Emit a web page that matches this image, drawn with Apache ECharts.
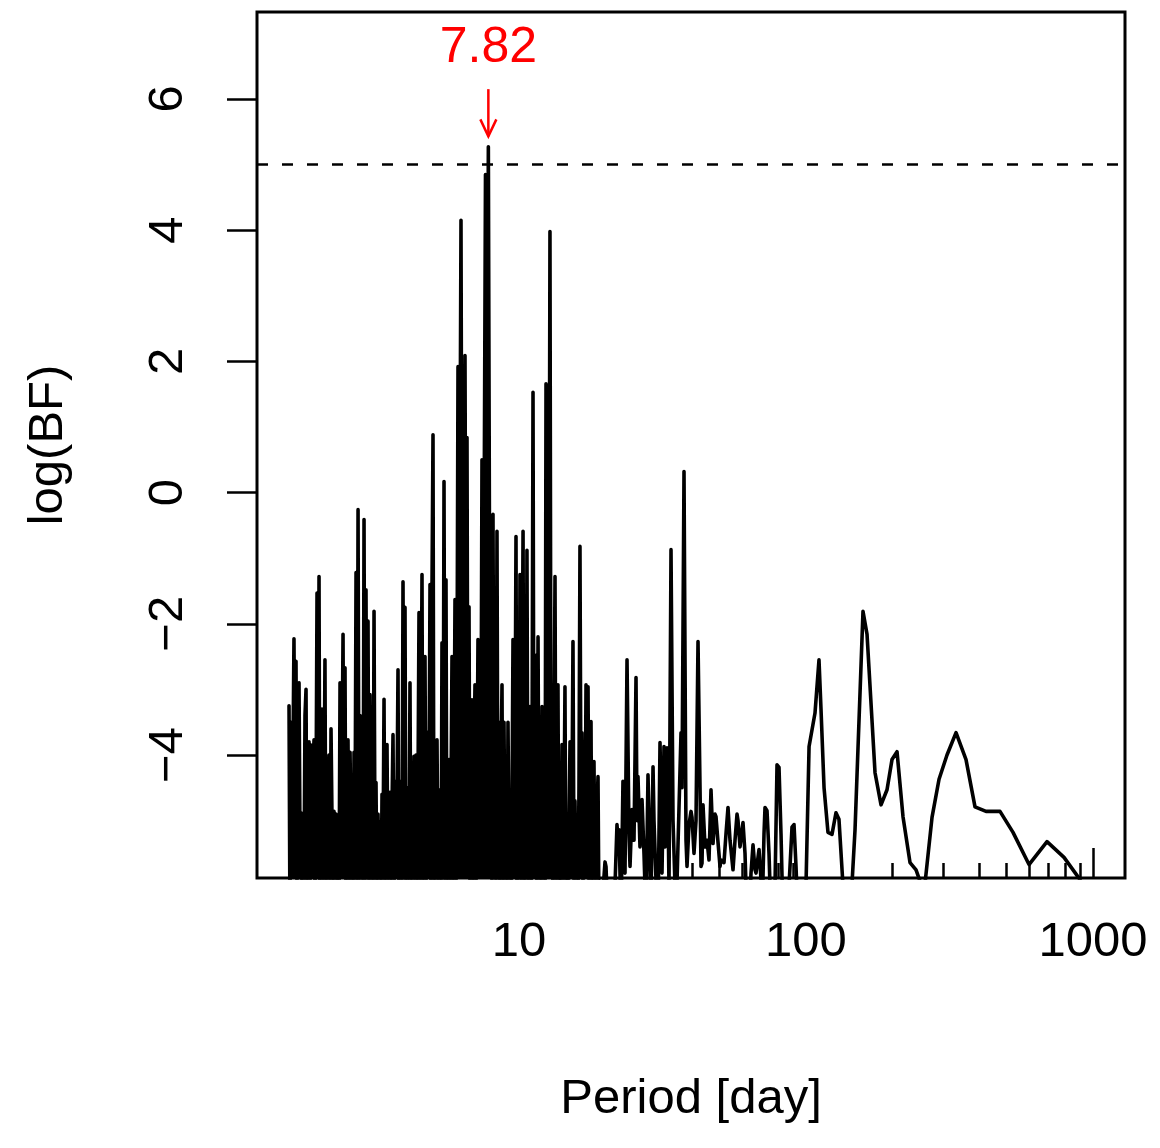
<!DOCTYPE html>
<html>
<head>
<meta charset="utf-8">
<title>log(BF) periodogram</title>
<script src="https://cdn.jsdelivr.net/npm/echarts@6/dist/echarts.min.js"></script>
<style>
html, body { margin: 0; padding: 0; background: #fff; }
#chart { width: 1160px; height: 1148px; }
</style>
</head>
<body>
<div id="chart"></div>
<script>
// short periods (dense part of the periodogram)
const shortPeriods = [
  1.580, 1.592, 1.605, 1.618, 1.631, 1.644, 1.658, 1.671, 1.684, 1.698, 1.712, 1.725,
  1.739, 1.753, 1.767, 1.782, 1.796, 1.811, 1.825, 1.840, 1.855, 1.870,
  1.885, 1.900, 1.915, 1.931, 1.946, 1.962, 1.978, 1.994, 2.010, 2.025,
  2.042, 2.058, 2.075, 2.092, 2.108, 2.125, 2.142, 2.160, 2.177, 2.195,
  2.213, 2.231, 2.249, 2.267, 2.285, 2.303, 2.322, 2.341, 2.359, 2.379,
  2.398, 2.417, 2.437, 2.456, 2.476, 2.496, 2.516, 2.536, 2.557, 2.578,
  2.598, 2.619, 2.640, 2.662, 2.683, 2.705, 2.727, 2.749, 2.771, 2.793,
  2.815, 2.838, 2.861, 2.884, 2.907, 2.930, 2.954, 2.978, 3.002, 3.026,
  3.050, 3.075, 3.100, 3.125, 3.150, 3.175, 3.201, 3.226, 3.252, 3.279,
  3.305, 3.332, 3.359, 3.386, 3.413, 3.440, 3.468, 3.496, 3.524, 3.552,
  3.581, 3.610, 3.639, 3.668, 3.698, 3.728, 3.758, 3.788, 3.818, 3.849,
  3.880, 3.911, 3.943, 3.975, 4.007, 4.039, 4.071, 4.104, 4.137, 4.170,
  4.204, 4.238, 4.272, 4.306, 4.341, 4.376, 4.411, 4.447, 4.483, 4.519,
  4.555, 4.592, 4.629, 4.666, 4.704, 4.742, 4.780, 4.818, 4.857, 4.897,
  4.936, 4.976, 5.016, 5.056, 5.097, 5.138, 5.180, 5.221, 5.263, 5.306,
  5.348, 5.391, 5.435, 5.479, 5.523, 5.567, 5.612, 5.657, 5.703, 5.749,
  5.795, 5.842, 5.889, 5.936, 5.984, 6.032, 6.081, 6.130, 6.179, 6.229,
  6.279, 6.330, 6.381, 6.432, 6.484, 6.536, 6.589, 6.642, 6.696, 6.749,
  6.803, 6.858, 6.913, 6.969, 7.025, 7.082, 7.139, 7.196, 7.254, 7.313,
  7.372, 7.431, 7.491, 7.551,
  7.642, 7.720, 7.820, 7.900, 7.950,
  7.987, 8.052, 8.117, 8.182, 8.248, 8.314, 8.381, 8.449, 8.517, 8.586,
  8.655, 8.725, 8.795, 8.866, 8.937, 9.009, 9.082, 9.155, 9.229, 9.303,
  9.378, 9.454, 9.530, 9.607, 9.684, 9.762, 9.841, 9.920, 10.00, 10.08,
  10.16, 10.24, 10.33, 10.41, 10.49, 10.58, 10.66, 10.75, 10.83, 10.92,
  11.01, 11.10, 11.19, 11.28, 11.37, 11.46, 11.55, 11.65, 11.74, 11.83,
  11.93, 12.03, 12.12, 12.22, 12.32, 12.42, 12.52, 12.62, 12.72, 12.82,
  12.93, 13.03, 13.14, 13.24, 13.35, 13.46, 13.56, 13.67, 13.78, 13.90,
  14.01, 14.12, 14.23, 14.35, 14.46, 14.58, 14.70, 14.82, 14.94, 15.06,
  15.18, 15.30, 15.42, 15.55, 15.67, 15.80, 15.93, 16.05, 16.18, 16.31,
  16.45, 16.58, 16.71, 16.85, 16.98, 17.12, 17.26, 17.40, 17.54, 17.68,
  17.82, 17.96, 18.11, 18.25, 18.40, 18.55, 18.70, 18.85, 19.00, 19.15
]
const shortLogBF = [
  -3.25, -6.5, -3.5, -5.8, -4.0, -2.23, -5.0, -2.57, -6.0, -3.0, -2.9, -5.2,
  -4.88, -6.5, -4.9, -5.9, -3.4, -3.0, -6.5, -4.5, -3.8, -6.0,
  -3.85, -5.5, -4.2, -3.77, -6.5, -4.8, -1.53, -5.5, -1.28, -6.5,
  -4.6, -3.3, -6.0, -4.9, -2.55, -6.5, -4.3, -5.6, -4.0, -6.2,
  -3.6, -5.0, -6.5, -4.86, -5.8, -4.9, -6.5, -5.24, -6.5, -2.9,
  -5.5, -4.2, -2.16, -5.8, -2.67, -6.5, -4.5, -3.77, -6.0, -3.96,
  -5.2, -4.6, -6.5, -3.96, -5.3, -1.22, -6.5, -0.26, -6.0, -3.4,
  -5.5, -4.2, -6.2, -0.41, -6.0, -1.48, -5.5, -1.96, -6.5, -3.08,
  -5.0, -4.4, -6.5, -1.81, -5.6, -4.42, -6.5, -4.9, -5.8, -5.02,
  -6.5, -4.6, -5.5, -3.15, -6.5, -4.5, -3.84, -6.0, -5.0, -4.57,
  -6.5, -4.8, -3.69, -6.2, -4.4, -5.6, -4.6, -2.7, -6.5, -4.4,
  -4.9, -6.0, -1.36, -5.5, -1.75, -6.5, -4.5, -5.4, -6.0, -2.9,
  -6.5, -4.6, -5.8, -4.02, -6.0, -4.0, -6.5, -4.5, -1.83, -6.0,
  -4.3, -1.25, -6.5, -4.4, -2.5, -6.0, -3.65, -5.5, -4.5, -1.4,
  -6.5, -1.43, 0.88, -6.5, -4.3, -5.8, -3.77, -6.0, -4.9, -4.53,
  -6.5, -2.29, -5.8, 0.17, -6.0, -1.33, -6.5, -4.5, -4.07, -6.0,
  -4.6, -2.5, -6.5, -4.3, -1.63, -6.0, -3.0, 1.92, -2.5, 0.3,
  4.15, -2.0, 0.6, -3.0, 2.09, -2.8, 0.84, -5.5, -1.74, -6.0,
  -4.2, -3.16, -6.5, -4.0, -2.93, -6.0, -4.5, -2.24, -5.8, -3.5,
  -4.0, 0.5, -3.5, -1.0,
  4.85, -0.8, 5.27, -1.5, -5.0,
  -1.8, -6.0, -0.33, -5.5, -2.35, -6.0, -0.59, -5.8, -3.5, -6.5,
  -4.2, -2.93, -6.5, -3.5, -5.8, -4.5, -6.5, -3.5, -5.5, -4.6,
  -6.5, -4.8, -2.24, -5.8, -4.0, -0.67, -6.5, -3.0, -5.6, -1.25,
  -6.0, -3.8, -0.59, -6.5, -4.2, -5.5, -0.88, -6.0, -5.0, -3.26,
  -6.5, -4.4, 1.53, -5.8, -4.0, -2.48, -6.2, -2.2, -5.6, -4.5,
  -6.5, -3.26, -5.8, -4.2, -6.5, 1.66, -4.0, -5.5, -2.8, 3.98,
  -5.0, -3.4, -6.5, -4.0, -1.28, -6.0, -4.8, -2.93, -6.5, -5.6,
  -6.5, -3.84, -6.0, -4.9, -2.96, -6.5, -5.5, -6.5, -5.0, -3.8,
  -5.8, -4.6, -2.27, -6.0, -4.7, -5.8, -5.0, -6.5, -4.5, -0.82,
  -5.2, -3.66, -6.0, -4.2, -5.6, -2.93, -4.8, -2.96, -5.9, -4.4,
  -3.49, -6.5, -5.0, -4.1, -6.0, -5.2, -4.8, -4.33, -6.5, -6.5
]

// 19 - 140 days
const midPeriods = [
  19.31, 19.62, 19.94, 20.10, 20.42, 20.92, 21.26, 21.60, 21.95, 22.13,
  22.31, 22.67, 23.03, 23.22, 23.41, 23.79, 24.17, 24.37, 24.76, 25.16,
  25.57, 25.77, 25.98, 26.40, 26.83, 27.26, 27.70, 28.15, 28.61, 28.84,
  29.31, 29.54, 30.02, 30.51, 31.00, 31.25, 31.50, 32.01, 32.27, 32.79,
  33.05, 33.32, 33.86, 34.41, 34.96, 35.25, 35.81, 36.69, 36.98, 37.58,
  38.19, 38.50, 39.12, 39.75, 40.07, 40.72, 41.38, 42.05, 42.73, 43.07,
  43.42, 43.77, 44.48, 45.20, 45.93, 46.67, 47.43, 48.19, 48.58, 49.37,
  50.17, 50.57, 51.80, 52.64, 53.49, 54.36, 55.68, 56.58, 57.50, 57.96,
  58.90, 60.33, 61.31, 62.30, 63.31, 64.33, 65.38, 66.43, 66.97, 68.60,
  69.71, 70.27, 71.41, 71.98, 73.15, 74.33, 75.53, 76.75, 78.00, 79.26,
  80.54, 81.84, 83.17, 85.19, 87.27, 89.39, 90.84, 92.31, 93.80, 97.64,
  100.0, 102.5, 107.5, 111.0, 112.8, 115.6, 119.3, 123.2, 127.2, 130.3,
  136.8
]
const midLogBF = [
  -6.5, -6.5, -5.63, -5.7, -6.5, -6.5, -6.5, -6.0, -5.06, -5.3,
  -5.14, -6.5, -4.4, -5.5, -5.8, -2.55, -5.2, -5.7, -4.83, -5.3,
  -2.82, -5.0, -4.33, -5.4, -4.68, -5.5, -6.5, -4.3, -5.6, -6.2,
  -4.18, -5.0, -5.9, -6.5, -3.81, -4.7, -5.8, -3.87, -5.4, -3.89,
  -4.8, -6.0, -0.87, -5.0, -4.98, -6.5, -6.5, -3.66, -4.5, 0.32,
  -5.3, -5.7, -5.06, -4.86, -4.95, -5.5, -5.0, -2.27, -4.5, -5.7,
  -5.65, -4.76, -5.4, -5.3, -5.6, -4.53, -5.35, -4.9, -4.94, -5.33,
  -5.7, -5.6, -5.64, -5.2, -4.8, -5.3, -5.75, -5.3, -4.9, -5.0,
  -5.4, -5.03, -5.5, -6.5, -6.5, -5.8, -5.37, -5.75, -5.8, -5.44,
  -5.9, -6.5, -5.2, -4.8, -4.85, -5.5, -6.5, -6.5, -6.0, -4.15,
  -4.19, -5.2, -6.5, -6.5, -6.0, -5.1, -5.06, -5.7, -6.5, -6.5,
  -6.0, -3.87, -3.36, -2.55, -3.3, -4.5, -5.18, -5.21, -4.88, -4.98,
  -6.5
]

// long periods
const longPeriods = [
  142.4, 148.2, 158.0, 163.2, 174.0, 182.6, 191.6, 199.4, 207.6, 217.8,
  230.4, 241.8, 257.8, 274.9, 290.8, 310.0, 333.3, 361.1, 388.1, 423.9,
  474.3, 526.5, 598.6, 691.6, 792.7, 901.2
]
const longLogBF = [
  -6.5, -5.14, -1.81, -2.16, -4.27, -4.76, -4.53, -4.07, -3.95, -4.94,
  -5.64, -5.75, -6.1, -4.95, -4.37, -4.0, -3.66, -4.07, -4.79, -4.86,
  -4.86, -5.18, -5.67, -5.32, -5.56, -5.9
]

const xTicks = [10, 100, 1000]
const xMinorTicks = [2, 3, 4, 5, 6, 7, 8, 9, 20, 30, 40, 50, 60, 70, 80, 90, 200, 300, 400, 500, 600, 700, 800, 900]
const yTicks = [-4, -2, 0, 2, 4, 6]

const threshold = 5
const peakPeriod = 7.82
// arrow top, arrow tip, label height (in log(BF))
const peakMarks = [6.15, 5.43, 6.78]

const denseData = shortPeriods.map((p, i) => [p, shortLogBF[i]])
const restPeriods = midPeriods.concat(longPeriods)
const restLogBF = midLogBF.concat(longLogBF)
const restData = restPeriods.map((p, i) => [p, restLogBF[i]])

const font = '"Liberation Sans", Arial, Helvetica, sans-serif'
const lineStyle = { color: '#000', width: 3.6, join: 'round', cap: 'round' }

let option = {
  animation: false,
  backgroundColor: '#fff',
  grid: {
    left: 257,
    top: 12,
    right: 35,
    bottom: 270,
    show: true,
    borderColor: '#000',
    borderWidth: 3,
    outerBoundsMode: 'none'
  },
  xAxis: [
    {
      type: 'log',
      logBase: 10,
      min: 1.222,
      max: 1293,
      position: 'bottom',
      name: 'Period [day]',
      nameLocation: 'middle',
      nameGap: 197,
      nameTextStyle: { fontSize: 49, fontFamily: font, color: '#000' },
      axisLine: { show: false, onZero: false },
      axisTick: {
        inside: true,
        length: 30,
        customValues: xTicks,
        lineStyle: { color: '#000', width: 2.5 }
      },
      axisLabel: {
        customValues: xTicks,
        formatter: v => String(v),
        fontSize: 49,
        fontFamily: font,
        color: '#000',
        margin: 40
      },
      splitLine: { show: false }
    },
    {
      type: 'log',
      logBase: 10,
      min: 1.222,
      max: 1293,
      position: 'bottom',
      axisLine: { show: false, onZero: false },
      axisTick: {
        inside: true,
        length: 15,
        customValues: xMinorTicks,
        lineStyle: { color: '#000', width: 2.5 }
      },
      axisLabel: { show: false },
      splitLine: { show: false }
    }
  ],
  yAxis: {
    type: 'value',
    min: -5.875,
    max: 7.326,
    name: 'log(BF)',
    nameLocation: 'middle',
    nameRotate: 90,
    nameGap: 184,
    nameTextStyle: { fontSize: 49, fontFamily: font, color: '#000' },
    axisLine: { show: false },
    axisTick: {
      length: 30,
      customValues: yTicks,
      lineStyle: { color: '#000', width: 2.5 }
    },
    axisLabel: {
      customValues: yTicks,
      formatter: v => String(v).replace('-', '\u2212'),
      rotate: 90,
      fontSize: 49,
      fontFamily: font,
      color: '#000',
      margin: 64
    },
    splitLine: { show: false }
  },
  series: [
    {
      // the short-period part is so dense that it reads as a solid block
      type: 'line',
      xAxisIndex: 0,
      data: denseData,
      symbol: 'none',
      clip: true,
      lineStyle: lineStyle,
      areaStyle: { color: '#000', opacity: 1, origin: 'start' },
      markLine: {
        silent: true,
        symbol: ['none', 'none'],
        label: { show: false },
        lineStyle: { color: '#000', width: 2.5, type: [11, 14] },
        data: [{ yAxis: threshold }]
      }
    },
    {
      type: 'line',
      xAxisIndex: 0,
      data: restData,
      symbol: 'none',
      clip: true,
      lineStyle: lineStyle
    },
    {
      type: 'custom',
      xAxisIndex: 0,
      data: [[peakPeriod].concat(peakMarks)],
      renderItem: function (params, api) {
        let top = api.coord([api.value(0), api.value(1)])
        let tip = api.coord([api.value(0), api.value(2)])
        let lab = api.coord([api.value(0), api.value(3)])
        let red = { stroke: '#ff0000', lineWidth: 2.5, fill: null }
        return {
          type: 'group',
          children: [
            { type: 'line', shape: { x1: top[0], y1: top[1], x2: tip[0], y2: tip[1] }, style: red },
            {
              type: 'polyline',
              shape: { points: [[tip[0] - 8, tip[1] - 17], [tip[0], tip[1]], [tip[0] + 8, tip[1] - 17]] },
              style: red
            },
            {
              type: 'text',
              x: lab[0],
              y: lab[1],
              style: {
                text: String(api.value(0)),
                fill: '#ff0000',
                fontSize: 50,
                fontFamily: font,
                align: 'center',
                verticalAlign: 'middle'
              }
            }
          ]
        }
      }
    }
  ]
}

let myChart = echarts.init(document.getElementById('chart'))
myChart.setOption(option)
</script>
</body>
</html>
